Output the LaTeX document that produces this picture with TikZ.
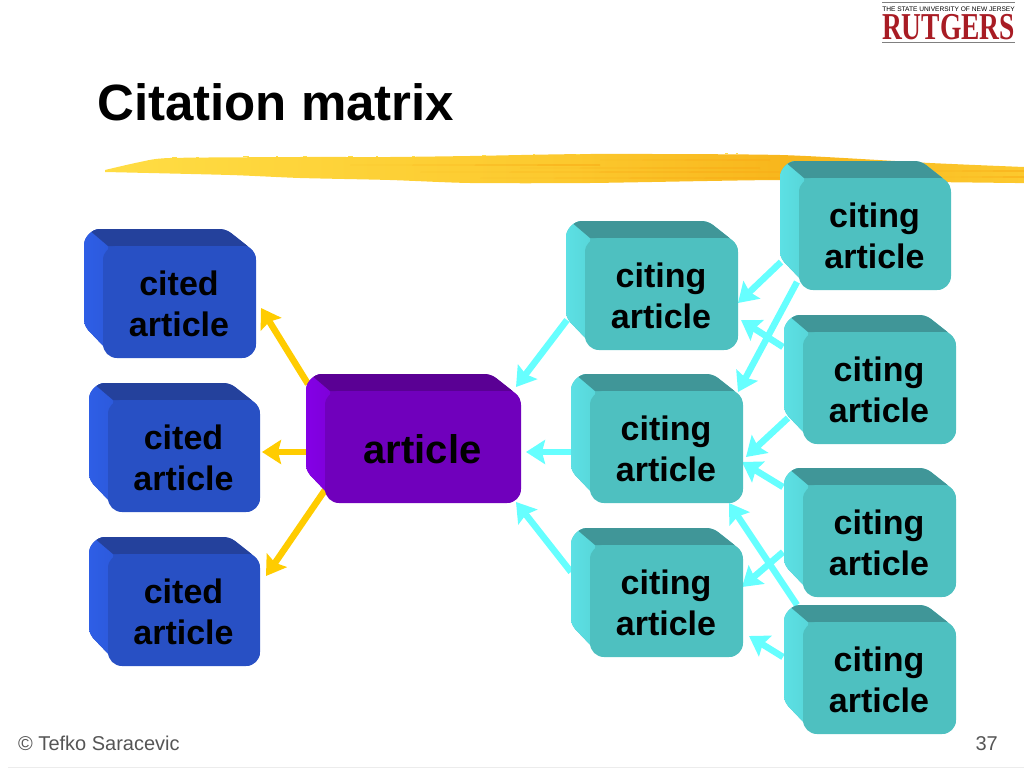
\documentclass[tikz,border=0pt]{standalone}
\usepackage{fontspec}
\setmainfont{Liberation Sans}
\newfontfamily\logofont{Liberation Serif}
\usetikzlibrary{arrows.meta, backgrounds}

\definecolor{citedfront}{HTML}{2850C4}
\definecolor{citedtop}{HTML}{24419C}
\definecolor{citedleft}{HTML}{2E5EE6}
\definecolor{citingfront}{HTML}{4EC0C0}
\definecolor{citingtop}{HTML}{409698}
\definecolor{citingleft}{HTML}{5CE0E4}
\definecolor{mainfront}{HTML}{7000BC}
\definecolor{maintop}{HTML}{5A0094}
\definecolor{mainleft}{HTML}{8400E6}
\definecolor{citeline}{HTML}{66FFFF}
\definecolor{refline}{HTML}{FFCC00}
\definecolor{swooshlight}{HTML}{FFDD44}
\definecolor{swooshmid}{HTML}{FCC92E}
\definecolor{swooshdark}{HTML}{F8B61C}
\definecolor{rutgersred}{HTML}{A81C24}
\definecolor{footgray}{HTML}{555555}

\tikzset{
  artnode/.style={anchor=north west, inner sep=0pt, outer sep=0pt, minimum height=129pt},
  arttext/.style={align=center, inner sep=0pt, font=\fontsize{34}{41}\selectfont\bfseries},
  foottext/.style={inner sep=0pt, text=footgray, font=\fontsize{20}{20}\selectfont},
  citearrow/.style={->, line width=6.5pt, citeline},
  refarrow/.style={->, line width=6.5pt, refline},
}

% name, left, top, width, colour, text
\newcommand{\artbox}[6]{%
  \node (#1) [artnode, minimum width=#4pt] at (#2,#3) {};
  \begin{scope}[shift={(#1.north west)}]
    \begin{scope}
      \clip (16,0) -- (#4-38,0) .. controls (#4-33,0) and (#4-29,1) .. (#4-25,4) -- (#4-6,19)
        .. controls (#4-2,22) and (#4,26) .. (#4,32) -- (#4,115) .. controls (#4,122) and (#4-7,129) .. (#4-14,129)
        -- (40,129) .. controls (34,129) and (29,127) .. (25,123) -- (4,101)
        .. controls (1,97) and (0,94) .. (0,89) -- (0,16) .. controls (0,8) and (8,0) .. (16,0) -- cycle;
      \fill[#5front] (0,0) rectangle (#4,129);
      \shade[left color=#5left, right color=#5left!70!#5front] (0,0) rectangle (24,129);
      \fill[#5top] (4,0) -- (#4,0) -- (#4,17) -- (24,17) -- cycle;
    \end{scope}
    \fill[#5front, rounded corners=14pt] (19,17) rectangle (#4,129);
  \end{scope}
  \node (#1text) [arttext] at ([shift={(9,10.5)}]#1.center) {#6};
}

\begin{document}
\begin{tikzpicture}[x=1pt, y=-1pt, >={Stealth[length=19pt,width=24pt,inset=3pt]}]
\useasboundingbox (0,0) rectangle (1024,768);

% Swoosh
\begin{scope}
\clip plot[smooth, tension=.4] coordinates {(105,170) (140,162) (170,158) (300,157) (390,157)
  (470,156) (590,154) (780,155) (930,163) (1024,167)} -- (1024,183) -- (1015,183)
  -- plot[smooth, tension=.4] coordinates {(930,182) (780,180) (590,183) (470,183) (390,180) (300,178) (230,175) (105,172)} -- cycle;
\shade[left color=swooshlight, right color=swooshmid] (100,150) rectangle (564,190);
\shade[left color=swooshmid, right color=swooshdark] (564,150) rectangle (785,190);
\shade[left color=swooshdark, right color=swooshmid] (785,150) rectangle (1024,190);
\foreach \xa/\xb/\ya in {350/600/165, 420/780/172, 480/780/178, 600/770/160,
                         520/760/168, 900/1024/171, 940/1024/177}
  \fill[swooshdark!85!orange, opacity=.6] (\xa,\ya) -- (\xb,\ya-1) -- (\xb,\ya+1) -- cycle;
\end{scope}
\foreach \xa/\wa/\ya in {172/5/157, 196/3/156.5, 243/6/156, 276/2/156, 303/4/156, 348/5/155.5, 376/2/155.5, 412/3/155.5, 482/4/155, 533/2/154, 576/4/154, 725/3/153, 736/2/153}
  \fill[swooshlight] (\xa,\ya) rectangle ++(\wa,1);

% Title and footer
\node (title) [anchor=base west, inner sep=0pt, font=\fontsize{51}{51}\selectfont\bfseries] at (97,120) {Citation matrix};
\node (author) [foottext, anchor=base west] at (18,750) {© Tefko Saracevic};
\node (page) [foottext, anchor=base east] at (998,750) {37};
\draw[gray!15, line width=1pt] (8,767) -- (1024,767);

% Logo
\node (logotop) [anchor=center, inner sep=0pt, font=\fontsize{6.6}{6.6}\selectfont] at (948.5,9) {THE STATE UNIVERSITY OF NEW JERSEY};
\node (logo) [anchor=base, inner sep=0pt, text=rutgersred, font=\logofont\bfseries\fontsize{38}{38}\selectfont] at (948.5,40) {\scalebox{.724}[1]{RUTGERS}};
\draw[gray, line width=1pt] (logotop.north west |- 0,3) -- (logotop.north east |- 0,3);
\draw[gray, line width=1pt] (logotop.north west |- 0,43) -- (logotop.north east |- 0,43);

% Boxes
\artbox{cited1}{84}{229}{172}{cited}{cited\\article}
\artbox{cited2}{89}{383}{171}{cited}{cited\\article}
\artbox{cited3}{89}{537}{171}{cited}{cited\\article}
\artbox{article}{306}{374}{215}{main}{\fontsize{40}{48}\selectfont article}
\artbox{left1}{566}{221}{172}{citing}{citing\\article}
\artbox{left2}{571}{374}{172}{citing}{citing\\article}
\artbox{left3}{571}{528}{172}{citing}{citing\\article}
\artbox{right1}{780}{161}{171}{citing}{citing\\article}
\artbox{right2}{784}{315}{172}{citing}{citing\\article}
\artbox{right3}{784}{468}{172}{citing}{citing\\article}
\artbox{right4}{784}{605}{172}{citing}{citing\\article}

% Edges
\begin{pgfonlayer}{background}
\draw[refarrow] ([shift={(2,10)}]article.north west) -- ([shift={(5,14.5)}]cited1.east);
\draw[refarrow] ([shift={(0,13.5)}]article.west) -- ([shift={(2,4.5)}]cited2.east);
\draw[refarrow] ([shift={(19,-13)}]article.south west) -- ([shift={(6,-25.5)}]cited3.east);
\draw[citearrow] ([shift={(1,34.5)}]left1.west) -- ([shift={(-5,-51.5)}]article.east);
\draw[citearrow] ([shift={(0,13.5)}]left2.west) -- ([shift={(5,13.5)}]article.east);
\draw[citearrow] ([shift={(0,-20.5)}]left3.west) -- ([shift={(-5,63.5)}]article.east);
\draw[citearrow] ([shift={(1,36.5)}]right1.west) -- ([shift={(0,17.5)}]left1.east);
\draw[citearrow] ([shift={(17,56.5)}]right1.west) -- ([shift={(-5,-46.5)}]left2.east);
\draw[citearrow] ([shift={(-1,-32.5)}]right2.west) -- ([shift={(3,34.5)}]left1.east);
\draw[citearrow] ([shift={(4,38.5)}]right2.west) -- ([shift={(3,18.5)}]left2.east);
\draw[citearrow] ([shift={(-1,-45.5)}]right3.west) -- ([shift={(-1,23.5)}]left2.east);
\draw[citearrow] ([shift={(-1,19.5)}]right3.west) -- ([shift={(-1,-5.5)}]left3.east);
\draw[citearrow] ([shift={(13,0)}]right4.north west) -- ([shift={(-14,0)}]left2.south east);
\draw[citearrow] ([shift={(-1,-12.5)}]right4.west) -- ([shift={(6,43.5)}]left3.east);
\end{pgfonlayer}

\end{tikzpicture}
\end{document}
